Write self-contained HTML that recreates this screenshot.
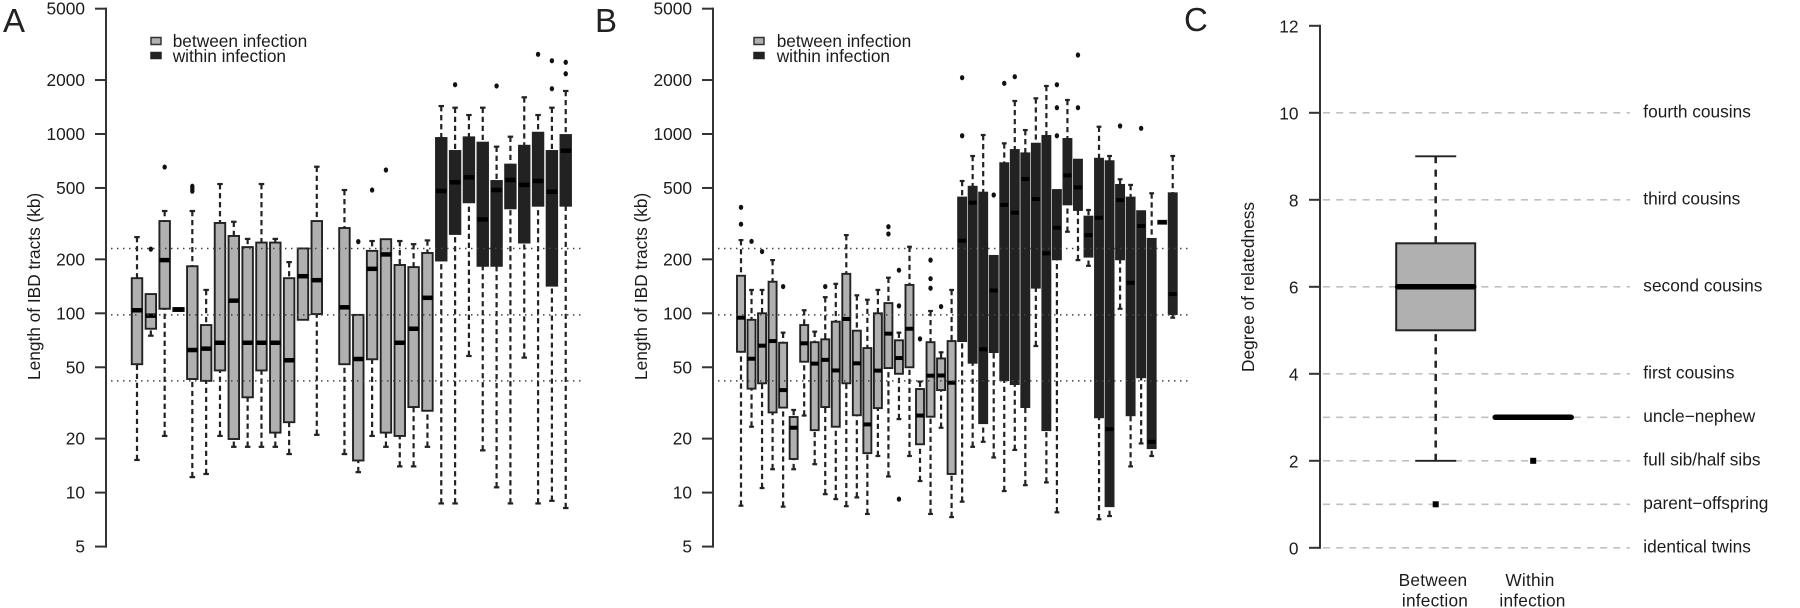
<!DOCTYPE html>
<html lang="en">
<head>
<meta charset="utf-8">
<title>IBD tract length and degree of relatedness</title>
<style>
html,body{margin:0;padding:0;background:#fff;width:1800px;height:608px;overflow:hidden}
svg{display:block;filter:blur(0.35px)}
text{font-family:"Liberation Sans",Arial,sans-serif;font-size:17.3px;fill:#1c1c1c}
.panel-letter{font-size:33px;fill:#222}
.wide{letter-spacing:.2px}
</style>
</head>
<body>
<svg id="figure" xmlns="http://www.w3.org/2000/svg" width="1800" height="608" viewBox="0 0 1800 608">
  <rect x="0" y="0" width="1800" height="608" fill="#fff"/>

  <g id="panelA">
    <text class="panel-letter" x="3" y="32">A</text>
    <text transform="translate(40,380) rotate(-90)">Length of IBD tracts (kb)</text>
    <g>
      <rect x="151" y="37.5" width="10" height="7" fill="#b0b0b0" stroke="#333" stroke-width="1.5"/>
      <rect x="151" y="52.5" width="10" height="6" fill="#222" stroke="#222" stroke-width="1.5"/>
      <text x="172.7" y="47">between infection</text>
      <text x="172.7" y="62">within infection</text>
    </g>
  </g>

  <g id="panelB">
    <text class="panel-letter" x="595" y="32">B</text>
    <text transform="translate(647,380) rotate(-90)">Length of IBD tracts (kb)</text>
    <g>
      <rect x="754" y="37.5" width="10" height="7" fill="#b0b0b0" stroke="#333" stroke-width="1.5"/>
      <rect x="754" y="52.5" width="10" height="6" fill="#222" stroke="#222" stroke-width="1.5"/>
      <text x="776.7" y="47">between infection</text>
      <text x="776.7" y="62">within infection</text>
    </g>
  </g>

  <g id="panelC">
    <text class="panel-letter" x="1184" y="31">C</text>
    <text transform="translate(1254,372) rotate(-90)">Degree of relatedness</text>
    <text class="wide" x="1433" y="586" text-anchor="middle">Between</text>
    <text class="wide" x="1435" y="606.5" text-anchor="middle">infection</text>
    <text class="wide" x="1530" y="586" text-anchor="middle">Within</text>
    <text class="wide" x="1532.5" y="606.5" text-anchor="middle">infection</text>
  </g>
</svg>

<script>
// Shared log-axis ticks and reference levels (kb)
const logTicks = [5, 10, 20, 50, 100, 200, 500, 1000, 2000, 5000];
const logTickLabels = ['5', '10', '20', '50', '100', '200', '500', '1000', '2000', '5000'];
const referenceLevels = [230, 98, 42];

// Panel A: one entry per slot; null marks the empty slot between groups
const aGroups = ['between','between','between','between','between','between','between','between','between','between','between','between','between','between',null,'between','between','between','between','between','between','between','within','within','within','within','within','within','within','within','within','within'];
const aWhiskerHigh = [266,128,372,107,372,135,526,324,260,526,260,193,230,657,null,487,98,253,259,253,243,255,1432,1402,1276,1402,850,966,1602,1276,1402,1738];
const aQ3 = [157,128,327,107,183,86,319,270,234,248,248,157,230,327,null,299,98,223,259,186,181,217,950,804,958,895,547,675,860,1017,804,987];
const aMedian = [104,97,198,105,62.4,63.5,68.5,117.6,68.5,68.5,68.5,54.7,161,153,null,108,55.6,177,213,68.5,82,122,481,538,573,334,487,554,520,547,476,807];
const aQ1 = [52,82,106,103,43,42,48,19.9,34,48,21.6,24.7,92,99,null,52,15.1,55.4,21.6,20.7,30,28.6,197,277,416,184,184,385,248,398,142.6,398];
const aWhiskerLow = [15.2,75,20.7,103,12.2,12.7,20.7,18,18,18,18,16.4,92,21,null,16.4,13,20.7,18,14,14,18,8.7,8.7,57.8,17.2,10.7,8.7,56.6,8.7,9,8.2];
const aOutliers = [[],[228],[654],[],[511,495,480],[],[],[],[],[],[],[],[],[],[],[],[251],[487],[630],[],[],[],[],[1884],[],[],[1853],[],[],[2782],[2563,1789],[2512,2168]];

// Panel B
const bGroups = ['between','between','between','between','between','between','between','between','between','between','between','between','between','between','between','between','between','between','between','between','between','within','within','within','within','within','within','within','within','within','within','within','within','within','within','within','within','within','within','within','within','within'];
const bWhiskerHigh = [256,135,135,198,78,28.9,104,79,123,146,273,126,119,135,158,78,235,41.6,103,60.6,135,547,754,987,209,887,1528,1052,1581,1853,487,1548,719,377,1098,754,559,520,371,467,328,754];
const bQ3 = [162,92,100,150,68.5,26.4,86,69,71.6,89.8,166,80,64,100,114,70.7,144,37.8,69,56,70,442,508,471,209,687,814,780,883,975,487,938,719,346,728,705,520,442,371,260,328,467];
const bMedian = [94.5,55.8,66,70,37.3,23,68,52.4,55,48,93,52.6,24,47.9,77,56.3,82,26.9,44.9,45,41,254,414,63,134,402,364,561,434,216,300,588,504,273,341,22.6,428,148,307,19.2,322,128];
const bQ1 = [61,38,40.7,28,29.8,15.4,53.7,22.3,30,23.3,40.7,27,16.6,29.6,49.5,46,50,18.6,26.5,37.3,12.7,70,53,24.4,60.8,42.4,40.3,30,139,22.3,200,405,377,207,26.3,8.4,200,27,44,17.7,316,99];
const bWhiskerLow = [8.45,23.3,10.6,13.5,8.35,13.5,26.9,14.4,9.8,9.2,8.4,9.4,7.6,16,12.3,25.7,16,11.6,7.6,23,7.3,8.9,18,19.2,15.7,10.2,17.3,11,65.7,11.4,7.76,285,198,184,7.1,7.4,106,14,18.8,16,316,94.5];
const bOutliers = [[390,314],[252],[221],[],[141],[],[],[],[141],[],[],[],[],[],[304,277],[174,110,9.2],[],[72],[198,156,138],[109],[],[2061,978],[],[],[457],[1917],[2087],[],[],[],[1884,1402,978],[],[2757,1402],[],[],[],[1108],[],[1076],[],[],[]];

// Panel C
const cTicks = [0, 2, 4, 6, 8, 10, 12];
const cTickLabels = ['0', '2', '4', '6', '8', '10', '12'];
const cRelationDegrees = [10, 8, 6, 4, 3, 2, 1, 0];
const cRelationLabels = ['fourth cousins', 'third cousins', 'second cousins', 'first cousins', 'uncle\u2212nephew', 'full sib/half sibs', 'parent\u2212offspring', 'identical twins'];
const cWhiskerHigh = [9, 3];
const cQ3 = [7, 3];
const cMedian = [6, 3];
const cQ1 = [5, 3];
const cWhiskerLow = [2, 3];
const cOutliers = [[1], [2]];

const NS = 'http://www.w3.org/2000/svg';
function mk(tag, attrs, parent) {
  const el = document.createElementNS(NS, tag);
  for (const k in attrs) el.setAttribute(k, attrs[k]);
  parent.appendChild(el);
  return el;
}
const DARK = '#222';
const LIGHT = '#b0b0b0';

// axis functions
function yLog(v) { return 134 + (3 - Math.log10(v)) * 179.3; }
function yLin(v) { return 547.8 - v * 43.5; }
function xA(i) { return 137 + i * 13.83; }
function xB(i) { return 741 + i * 10.53; }
function xC(i) { return 1435.7 + i * 97.5; }

function drawLogAxis(parent, axisX) {
  const axis = mk('line', {x1: axisX, x2: axisX, y1: yLog(5000) - 1, y2: yLog(5) + 1, stroke: '#333', 'stroke-width': 2}, parent);
  
  
  logTicks.forEach(function (t, i) {
    const tick = mk('line', {x1: axisX - 11, x2: axisX, y1: yLog(t), y2: yLog(t), stroke: '#333', 'stroke-width': 2}, parent);
    
    
    const label = mk('text', {x: axisX - 21, y: yLog(t) + 6, 'text-anchor': 'end'}, parent);
    
    
    label.textContent = logTickLabels[i];
  });
}

function drawBoxes(parent, xFn, boxW, capW, medW, g, hi, q3, med, q1, lo, out) {
  g.forEach(function (group, i) {
    if (!group) return;
    const x = xFn(i);
    const fill = group === 'within' ? DARK : LIGHT;
    const box = mk('g', {}, parent);
    
    
    [[hi[i], q3[i]], [lo[i], q1[i]]].forEach(function (p) {
      if (p[0] === p[1]) return;
      const whisker = mk('line', {x1: x, x2: x, y1: yLog(p[0]), y2: yLog(p[1]), stroke: DARK, 'stroke-width': 2.2, 'stroke-dasharray': '5.3 3.7'}, box);
      
      
      const cap = mk('line', {x1: x - capW / 2, x2: x + capW / 2, y1: yLog(p[0]), y2: yLog(p[0]), stroke: DARK, 'stroke-width': 2.2}, box);
      
      
    });
    const top = yLog(q3[i]);
    const rect = mk('rect', {x: x - boxW / 2, y: top, width: boxW, height: yLog(q1[i]) - top, fill: fill, stroke: DARK, 'stroke-width': 1.9}, box);
    
    
    const m = mk('line', {x1: x - boxW / 2, x2: x + boxW / 2, y1: yLog(med[i]), y2: yLog(med[i]), stroke: '#000', 'stroke-width': medW}, box);
    
    
    out[i].forEach(function (v) {
      const dot = mk('ellipse', {cx: x, cy: yLog(v), rx: 2.2, ry: 2.6, fill: '#111'}, box);
      
      
    });
  });
}

function drawRefs(parent, x1, x2) {
  referenceLevels.forEach(function (v) {
    const ref = mk('line', {x1: x1, x2: x2, y1: yLog(v), y2: yLog(v), stroke: '#444', 'stroke-width': 1.5, 'stroke-dasharray': '1.5 4.5'}, parent);
    
    
  });
}

const panelA = document.getElementById('panelA');
const panelB = document.getElementById('panelB');
const panelC = document.getElementById('panelC');

drawLogAxis(panelA, 106);
drawBoxes(panelA, xA, 10.5, 5.5, 4.5, aGroups, aWhiskerHigh, aQ3, aMedian, aQ1, aWhiskerLow, aOutliers);
drawRefs(panelA, 111, 585);

drawLogAxis(panelB, 713);
drawBoxes(panelB, xB, 8, 4.8, 4, bGroups, bWhiskerHigh, bQ3, bMedian, bQ1, bWhiskerLow, bOutliers);
drawRefs(panelB, 718, 1192);

// Panel C axis
(function () {
  const ax = mk('line', {x1: 1320, x2: 1320, y1: yLin(12) - 1, y2: yLin(0) + 1, stroke: '#333', 'stroke-width': 2}, panelC);
  
  
  cTicks.forEach(function (t, i) {
    const tick = mk('line', {x1: 1309, x2: 1320, y1: yLin(t), y2: yLin(t), stroke: '#333', 'stroke-width': 2}, panelC);
    
    
    const label = mk('text', {x: 1298.5, y: yLin(t) + 6.5, 'text-anchor': 'end'}, panelC);
    
    
    label.textContent = cTickLabels[i];
  });
  cRelationDegrees.forEach(function (d, i) {
    const grid = mk('line', {x1: 1323, x2: 1630, y1: yLin(d), y2: yLin(d), stroke: '#c0c0c0', 'stroke-width': 1.6, 'stroke-dasharray': '7 6.2'}, panelC);
    
    
    const label = mk('text', {x: 1643.3, y: yLin(d) + 4.5}, panelC);
    
    
    label.textContent = cRelationLabels[i];
  });
  cMedian.forEach(function (medianValue, i) {
    const x = xC(i);
    const g = mk('g', {}, panelC);
    
    
    [[cWhiskerHigh[i], cQ3[i]], [cWhiskerLow[i], cQ1[i]]].forEach(function (p) {
      if (p[0] === p[1]) return;
      const whisker = mk('line', {x1: x, x2: x, y1: yLin(p[0]), y2: yLin(p[1]), stroke: DARK, 'stroke-width': 2.5, 'stroke-dasharray': '7 6.3'}, g);
      
      
      const cap = mk('line', {x1: x - 20.5, x2: x + 20.5, y1: yLin(p[0]), y2: yLin(p[0]), stroke: DARK, 'stroke-width': 1.9}, g);
      
      
    });
    if (cQ3[i] !== cQ1[i]) {
      const rect = mk('rect', {x: x - 39.5, y: yLin(cQ3[i]), width: 79, height: yLin(cQ1[i]) - yLin(cQ3[i]), fill: LIGHT, stroke: DARK, 'stroke-width': 2}, g);
      
      
    }
    const m = mk('line', {x1: x - 38, x2: x + 38, y1: yLin(medianValue), y2: yLin(medianValue), stroke: '#000', 'stroke-width': 5.5, 'stroke-linecap': 'round'}, g);
    
    
    cOutliers[i].forEach(function (v) {
      const dot = mk('rect', {x: x - 3, y: yLin(v) - 3, width: 6, height: 6, fill: '#000'}, g);
      
      
    });
  });
})();
</script>
</body>
</html>
